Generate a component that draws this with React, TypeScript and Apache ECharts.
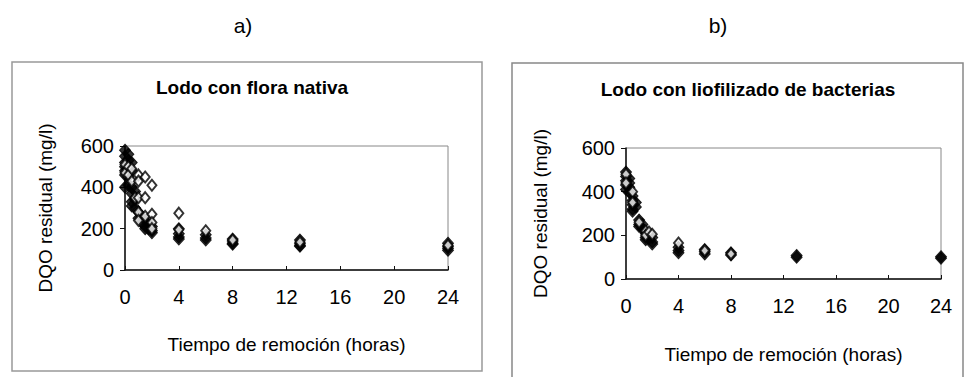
import React, { useEffect, useRef } from "react";
import * as echarts from "echarts";

// x axis ticks (hours) and y axis ticks (mg/l)
const xTicks = [0, 4, 8, 12, 16, 20, 24];
const yTicks = [0, 200, 400, 600];

// Panel a) Lodo con flora nativa: [tiempo (h), DQO residual (mg/l)]
const nativaFilled: [number, number][] = [
  [0, 580], [0, 550], [0, 520], [0, 500], [0, 480], [0, 460], [0, 400],
  [0.25, 560], [0.25, 530], [0.25, 490], [0.25, 450], [0.25, 410],
  [0.5, 520], [0.5, 480], [0.5, 400], [0.5, 370], [0.5, 330], [0.5, 310],
  [0.75, 380], [0.75, 340], [0.75, 300],
  [1, 280], [1, 250], [1.25, 260], [1.25, 230],
  [1.5, 240], [1.5, 210], [1.5, 200], [1.75, 220], [1.75, 200],
  [2, 210], [2, 190], [2, 180],
  [4, 200], [4, 175], [4, 160], [4, 150],
  [6, 170], [6, 155], [6, 145],
  [8, 150], [8, 140], [8, 130], [8, 125],
  [13, 145], [13, 130], [13, 120], [13, 115],
  [24, 130], [24, 115], [24, 105], [24, 95],
];
const nativaOpen: [number, number][] = [
  [0, 510], [0, 470], [0.25, 500], [0.25, 460], [0.5, 490], [0.5, 430],
  [0.75, 350], [1, 460], [1, 430], [1, 350], [1, 280], [1, 240],
  [1.5, 450], [1.5, 350], [1.5, 260], [2, 410], [2, 270], [2, 230], [2, 200],
  [4, 275], [4, 195], [6, 190], [8, 145], [13, 135], [24, 120],
];

// Panel b) Lodo con liofilizado de bacterias
const liofFilled: [number, number][] = [
  [0, 490], [0, 470], [0, 450], [0, 430], [0, 410],
  [0.25, 460], [0.25, 440], [0.25, 420], [0.25, 400],
  [0.5, 380], [0.5, 360], [0.5, 340], [0.5, 320], [0.5, 310],
  [0.75, 350], [0.75, 330],
  [1, 270], [1, 250], [1, 240], [1.25, 250], [1.25, 230],
  [1.5, 210], [1.5, 190], [1.5, 180], [1.75, 200], [1.75, 185],
  [2, 190], [2, 170], [2, 160],
  [4, 145], [4, 130], [4, 120],
  [6, 135], [6, 125], [6, 115],
  [8, 120], [8, 110], [13, 108], [13, 100], [24, 102], [24, 95],
];
const liofOpen: [number, number][] = [
  [0, 480], [0, 440], [0.5, 400], [0.5, 350], [1, 260],
  [1.5, 220], [1.5, 200], [1.75, 215], [2, 205],
  [4, 165], [6, 130], [8, 115],
];

const titles = ["Lodo con flora nativa", "Lodo con liofilizado de bacterias"];
const panelLabels = ["a)", "b)"];
const xName = "Tiempo de remoción (horas)";
const yName = "DQO residual (mg/l)";

const FONT = "'Liberation Sans', Arial, sans-serif";

export default function App() {
  const ref = useRef<HTMLDivElement>(null);
  useEffect(() => {
    if (!ref.current) return;
    const chart = echarts.init(ref.current, undefined, { renderer: "svg" });
    const grids = [
      { left: 125, top: 146, width: 323, height: 124 },
      { left: 626, top: 148, width: 315, height: 131 },
    ];
    const mkX = (i: number) => ({
      type: "value",
      gridIndex: i,
      min: xTicks[0],
      max: xTicks[xTicks.length - 1],
      interval: 4,
      name: xName,
      nameLocation: "middle",
      nameGap: i === 0 ? 65 : 66,
      nameTextStyle: { fontFamily: FONT, fontSize: 19, color: "#000" },
      axisLine: { show: true, lineStyle: { color: "#111", width: 1.5 } },
      axisTick: { show: true, inside: true, length: 4, lineStyle: { color: "#111" } },
      axisLabel: { fontFamily: FONT, fontSize: 20, color: "#000", margin: 17 },
      splitLine: { show: false },
    });
    const mkY = (i: number) => ({
      type: "value",
      gridIndex: i,
      min: yTicks[0],
      max: yTicks[yTicks.length - 1],
      interval: 200,
      name: yName,
      nameLocation: "middle",
      nameGap: i === 0 ? 70 : 76,
      nameTextStyle: { fontFamily: FONT, fontSize: 19, color: "#000" },
      axisLine: { show: true, lineStyle: { color: "#111", width: 1.5 } },
      axisTick: { show: true, length: 5, lineStyle: { color: "#111" } },
      axisLabel: { fontFamily: FONT, fontSize: 20, color: "#000", margin: 11 },
      splitLine: { show: false },
    });
    const filled = (data: [number, number][], i: number) => ({
      type: "scatter",
      xAxisIndex: i,
      yAxisIndex: i,
      data,
      symbol: "diamond",
      symbolSize: [11, 12],
      itemStyle: { color: "#000", borderColor: "#000", borderWidth: 1 },
    });
    const open = (data: [number, number][], i: number) => ({
      type: "scatter",
      xAxisIndex: i,
      yAxisIndex: i,
      data,
      symbol: "diamond",
      symbolSize: [9, 11],
      itemStyle: { color: "#fff", borderColor: "#000", borderWidth: 2 },
      z: 3,
    });
    const titleStyle = { fontFamily: FONT, fontSize: 19, fontWeight: "bold", color: "#000" };
    const labelStyle = (t: string) => ({
      text: t,
      fontFamily: "'Liberation Sans Narrow', 'Liberation Sans', sans-serif",
      fontSize: 21,
      fill: "#000",
      align: "center",
      verticalAlign: "middle",
    });
    chart.setOption({
      animation: false,
      backgroundColor: "#fff",
      grid: grids.map((g) => ({
        ...g,
        show: true,
        borderColor: "#888",
        borderWidth: 1,
        backgroundColor: "transparent",
      })),
      xAxis: [mkX(0), mkX(1)],
      yAxis: [mkY(0), mkY(1)],
      title: [
        { text: titles[0], left: 247, top: 73, textAlign: "center", textStyle: titleStyle },
        { text: titles[1], left: 743, top: 75, textAlign: "center", textStyle: titleStyle },
      ],
      graphic: [
        {
          type: "rect",
          shape: { x: 12, y: 62, width: 470, height: 309 },
          style: { fill: "none", stroke: "#999", lineWidth: 1.5 },
          z: -1,
        },
        {
          type: "rect",
          shape: { x: 512, y: 63, width: 451, height: 330 },
          style: { fill: "none", stroke: "#888", lineWidth: 1.5 },
          z: -1,
        },
        { type: "text", x: 243, y: 25, style: labelStyle(panelLabels[0]) },
        { type: "text", x: 718, y: 25, style: labelStyle(panelLabels[1]) },
      ],
      series: [
        filled(nativaFilled, 0),
        open(nativaOpen, 0),
        filled(liofFilled, 1),
        open(liofOpen, 1),
      ],
    });
    return () => chart.dispose();
  }, []);
  return (
    <div
      ref={ref}
      style={{ position: "fixed", left: 0, top: 0, width: 967, height: 377 }}
    />
  );
}
